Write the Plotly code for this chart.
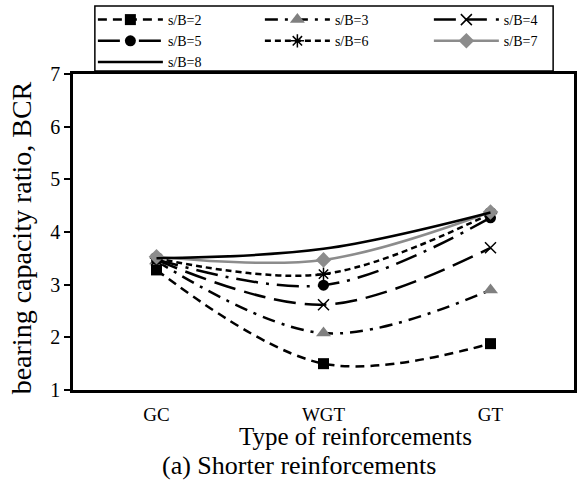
import plotly.graph_objects as go

# Reinforcement types along the x axis
categories = ["GC", "WGT", "GT"]

# Bearing capacity ratio for each spacing ratio s/B
bcr_sb2 = [3.28, 1.50, 1.88]
bcr_sb3 = [3.45, 2.08, 2.90]
bcr_sb4 = [3.47, 2.62, 3.70]
bcr_sb5 = [3.48, 2.99, 4.27]
bcr_sb6 = [3.50, 3.20, 4.35]
bcr_sb7 = [3.53, 3.47, 4.38]
bcr_sb8 = [3.50, 3.68, 4.37]

# name, values, line style, marker style, legend column
series = [
    ("s/B=2", bcr_sb2, dict(color="black", dash="9px,6px"),
     dict(symbol="square", color="black", size=11), "legend"),
    ("s/B=3", bcr_sb3, dict(color="black", dash="13px,7px,3px,7px"),
     dict(symbol="triangle-up", color="#808080", size=13), "legend2"),
    ("s/B=4", bcr_sb4, dict(color="black", dash="22px,9px"),
     dict(symbol="x-thin-open", color="black", size=11,
          line=dict(color="black", width=1.5)), "legend3"),
    ("s/B=5", bcr_sb5, dict(color="black", dash="22px,8px,3px,8px"),
     dict(symbol="circle", color="black", size=11), "legend"),
    ("s/B=6", bcr_sb6, dict(color="black", dash="6px,4px"),
     dict(symbol="asterisk-open", color="black", size=11,
          line=dict(color="black", width=1.5)), "legend2"),
    ("s/B=7", bcr_sb7, dict(color="#8c8c8c", dash="solid"),
     dict(symbol="diamond", color="#8c8c8c", size=12), "legend3"),
    ("s/B=8", bcr_sb8, dict(color="black", dash="solid"), None, "legend"),
]

xpos = list(range(len(categories)))

fig = go.Figure()
for name, vals, line, marker, leg in series:
    line = dict(line, width=2.5, shape="spline", smoothing=1.0)
    fig.add_trace(go.Scatter(
        x=xpos, y=vals, name=name,
        mode="lines+markers" if marker else "lines",
        line=line,
        marker=marker if marker else None,
        legend=leg,
    ))

serif = "Liberation Serif, Times New Roman, serif"
W, H = 581, 486
L, R, T, B = 73, 4, 74, 96
plot_w = W - L - R
plot_h = H - T - B


def px_x(px):
    return (px - L) / plot_w


def px_y(py):
    return (T + plot_h - py) / plot_h


def legend_column(left):
    return dict(
        orientation="v",
        x=px_x(left), xanchor="left",
        y=px_y(4), yanchor="top",
        itemwidth=65,
        bgcolor="rgba(0,0,0,0)", borderwidth=0,
        font=dict(family=serif, size=14),
        tracegroupgap=0,
    )


fig.update_layout(
    width=W, height=H,
    margin=dict(l=L, r=R, t=T, b=B),
    paper_bgcolor="white", plot_bgcolor="white",
    font=dict(family=serif, color="black"),
    showlegend=True,
    legend=legend_column(93),
    legend2=legend_column(261),
    legend3=legend_column(431),
    shapes=[
        # frame around the three legend columns
        dict(type="rect", xref="paper", yref="paper",
             x0=px_x(95), x1=px_x(556), y0=px_y(71), y1=px_y(6),
             line=dict(color="black", width=1.5), fillcolor="rgba(0,0,0,0)",
             layer="above"),
    ],
    xaxis=dict(
        range=[-0.5, len(categories) - 0.5],
        tickmode="array", tickvals=xpos, ticktext=categories,
        ticks="", showgrid=False, zeroline=False,
        showline=True, linecolor="black", linewidth=2.5, mirror=True,
        tickfont=dict(family=serif, size=19),
        ticklabelstandoff=5,
    ),
    yaxis=dict(
        range=[1, 7], dtick=1,
        ticks="outside", ticklen=6, tickcolor="black", tickwidth=1.5,
        showgrid=False, zeroline=False,
        showline=True, linecolor="black", linewidth=2.5, mirror=True,
        tickfont=dict(family=serif, size=20),
    ),
    annotations=[
        dict(text="bearing capacity ratio, BCR", xref="paper", yref="paper",
             x=px_x(21), y=px_y(238), textangle=-90,
             xanchor="center", yanchor="middle", showarrow=False,
             font=dict(family=serif, size=28)),
        dict(text="Type of reinforcements", xref="paper", yref="paper",
             x=px_x(357), y=px_y(437),
             xanchor="center", yanchor="middle", showarrow=False,
             font=dict(family=serif, size=25)),
        dict(text="(a) Shorter reinforcements", xref="paper", yref="paper",
             x=px_x(300), y=px_y(465),
             xanchor="center", yanchor="middle", showarrow=False,
             font=dict(family=serif, size=26)),
    ],
)

fig.write_html("out.html")
